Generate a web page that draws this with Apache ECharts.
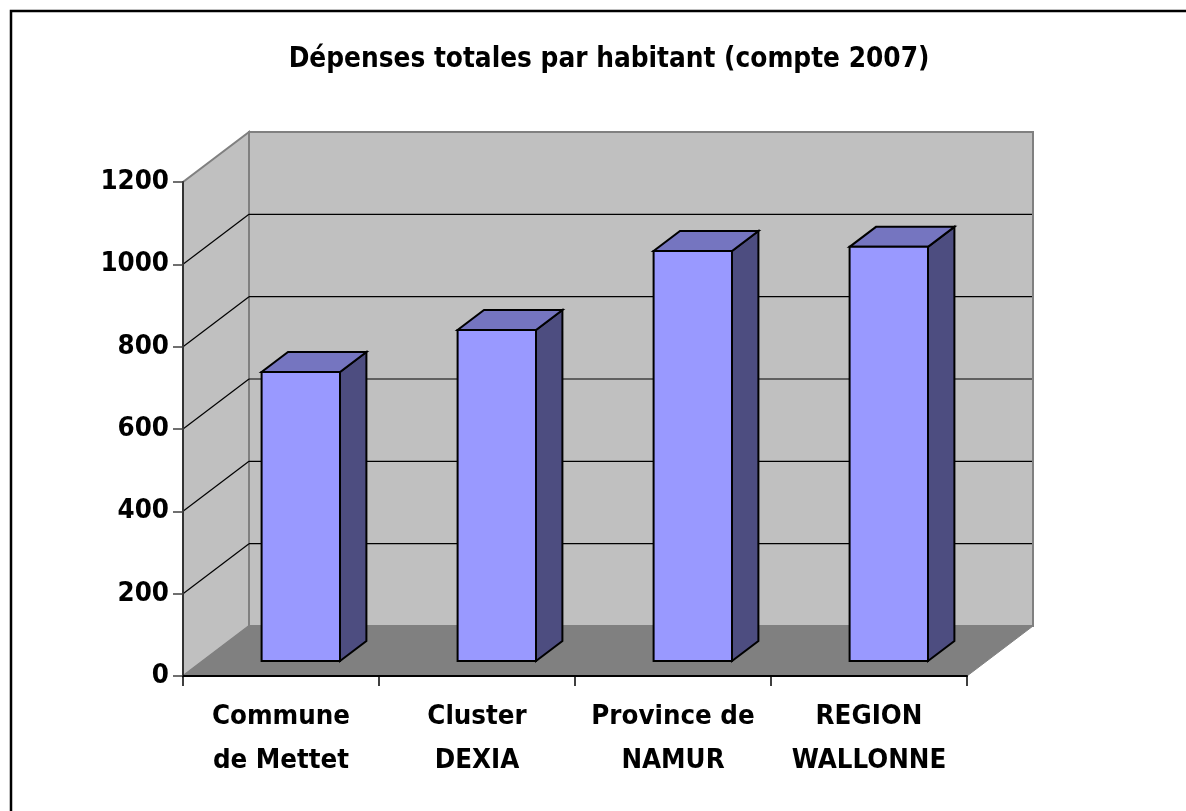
<!DOCTYPE html>
<html>
<head>
<meta charset="utf-8">
<script src="https://cdn.jsdelivr.net/npm/echarts@6/dist/echarts.min.js"></script>
<style>
html,body{margin:0;padding:0;background:#fff;}
#main{width:1186px;height:811px;}
</style>
</head>
<body>
<div id="main"></div>
<script>
// ---- data ----
const categories = ['Commune\nde Mettet', 'Cluster\nDEXIA', 'Province de\nNAMUR', 'REGION\nWALLONNE'];
const values = [702, 804, 996, 1006];
const yTicks = [0, 200, 400, 600, 800, 1000, 1200];
const titleText = 'Dépenses totales par habitant (compte 2007)';

// ---- style constants ----
const FONT = "'DejaVu Sans Condensed', 'DejaVu Sans', sans-serif";
const DX = 66, DY = -50;          // depth offset of the back wall
const F0 = 0.3, F1 = 0.7;          // bar depth (front / back fraction)
const BAR_W = 0.4;                 // bar width as fraction of category

const chart = echarts.init(document.getElementById('main'), null, {renderer: 'canvas'});

function wallsRender(params, api) {
  const cs = params.coordSys;
  const x0 = cs.x, x1 = cs.x + cs.width;
  const yb = api.coord([0, yTicks[0]])[1];
  const yt = api.coord([0, yTicks[yTicks.length - 1]])[1];
  const children = [];
  children.push({type: 'polygon', shape: {points: [[x0, yb], [x0, yt], [x0 + DX, yt + DY], [x0 + DX, yb + DY]]},
    style: {fill: '#C0C0C0', stroke: '#808080', lineWidth: 2}});
  children.push({type: 'polygon', shape: {points: [[x0 + DX, yt + DY], [x1 + DX, yt + DY], [x1 + DX, yb + DY], [x0 + DX, yb + DY]]},
    style: {fill: '#C0C0C0', stroke: '#808080', lineWidth: 2}});
  for (let k = 1; k < yTicks.length - 1; k++) {
    const y = api.coord([0, yTicks[k]])[1];
    children.push({type: 'line', shape: {x1: x0, y1: y, x2: x0 + DX, y2: y + DY}, style: {stroke: '#000', lineWidth: 1.2}});
    children.push({type: 'line', shape: {x1: x0 + DX, y1: y + DY, x2: x1 + DX - 1, y2: y + DY}, style: {stroke: '#000', lineWidth: 1.2}});
  }
  children.push({type: 'polygon', shape: {points: [[x0, yb], [x1, yb], [x1 + DX, yb + DY], [x0 + DX, yb + DY]]},
    style: {fill: '#808080', stroke: '#808080', lineWidth: 1}});
  return {type: 'group', children: children};
}

function barRender(params, api) {
  const i = api.value(0), v = api.value(1);
  const base = api.coord([i, 0]);
  const top = api.coord([i, v]);
  const bw = api.size([1, 0])[0] * BAR_W;
  const cx = base[0];
  const fx = cx - bw / 2 + F0 * DX, fy = F0 * DY;
  const bx = cx - bw / 2 + F1 * DX, by = F1 * DY;
  const yB = base[1], yT = top[1];
  const st = {stroke: '#000', lineWidth: 2, lineJoin: 'miter'};
  return {type: 'group', children: [
    {type: 'polygon', shape: {points: [[fx + bw, yB + fy], [bx + bw, yB + by], [bx + bw, yT + by], [fx + bw, yT + fy]]},
      style: Object.assign({fill: '#4D4D80'}, st)},
    {type: 'polygon', shape: {points: [[fx, yT + fy], [fx + bw, yT + fy], [bx + bw, yT + by], [bx, yT + by]]},
      style: Object.assign({fill: '#7575C0'}, st)},
    {type: 'polygon', shape: {points: [[fx, yB + fy], [fx + bw, yB + fy], [fx + bw, yT + fy], [fx, yT + fy]]},
      style: Object.assign({fill: '#9999FF'}, st)}
  ]};
}

const option = {
  backgroundColor: '#fff',
  animation: false,
  title: {
    text: titleText,
    left: 604, top: 41, textAlign: 'center',
    textStyle: {fontFamily: FONT, fontSize: 27.7, fontWeight: 'bold', color: '#000'}
  },
  graphic: [{
    type: 'rect', z: 100, silent: true,
    shape: {x: 11, y: 11, width: 1300, height: 900},
    style: {fill: 'none', stroke: '#000', lineWidth: 2.5}
  }],
  grid: {left: 183, right: 219, top: 182, bottom: 135, containLabel: false},
  xAxis: {
    type: 'category', data: categories, z: 10,
    axisLine: {show: true, lineStyle: {color: '#000', width: 2}},
    axisTick: {show: true, length: 10, interval: 0, lineStyle: {color: '#000', width: 1.5}},
    axisLabel: {interval: 0, margin: 19, fontFamily: FONT, fontSize: 27.4, fontWeight: 'bold', color: '#000', lineHeight: 44},
    splitLine: {show: false}
  },
  yAxis: {
    type: 'value', min: yTicks[0], max: yTicks[yTicks.length - 1], interval: 200, z: 10,
    axisLine: {show: true, lineStyle: {color: '#333', width: 2}},
    axisTick: {show: true, length: 10, lineStyle: {color: '#404040', width: 1.5}},
    axisLabel: {margin: 14, fontFamily: FONT, fontSize: 27.4, fontWeight: 'bold', color: '#000',
      formatter: function (v) { return String(v); }},
    splitLine: {show: false}
  },
  series: [
    {type: 'custom', z: 1, clip: false, renderItem: wallsRender, data: [[0, 0]], silent: true},
    {type: 'custom', z: 2, clip: false, renderItem: barRender, data: values.map((v, i) => [i, v])}
  ]
};
chart.setOption(option);
</script>
</body>
</html>
